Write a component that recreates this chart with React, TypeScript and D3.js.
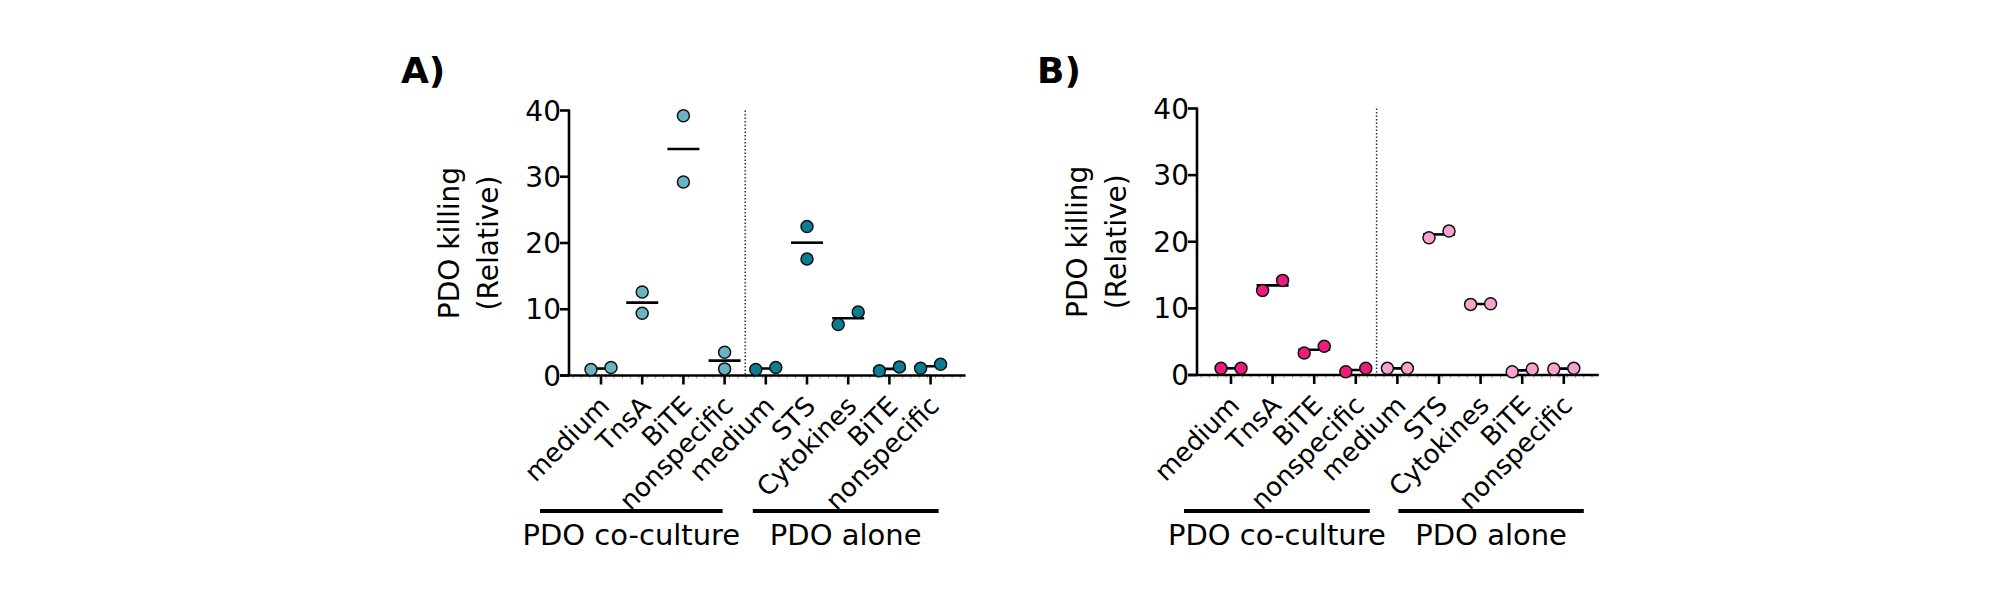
import React, { useEffect, useRef } from 'react';
import * as d3 from 'd3';

// categories along the x axis (same in both panels)
const categories = ['medium', 'TnsA', 'BiTE', 'nonspecific', 'medium', 'STS', 'Cytokines', 'BiTE', 'nonspecific'];
const groupLabels = ['PDO co-culture', 'PDO alone'];
const yTicks = [0, 10, 20, 30, 40];

// two replicate values per category
const valuesA = [
  [0.9, 1.2], [12.6, 9.4], [39.2, 29.2], [3.5, 1.0],
  [0.9, 1.2], [22.5, 17.6], [7.7, 9.6], [0.7, 1.3], [1.1, 1.7],
];
const valuesB = [
  [1.0, 1.0], [12.7, 14.2], [3.3, 4.3], [0.5, 1.0],
  [1.0, 1.0], [20.6, 21.6], [10.6, 10.7], [0.5, 0.9], [0.9, 1.0],
];

const FONT = '"DejaVu Sans", sans-serif';

const panels = [
  {
    label: 'A)', labelX: 401, values: valuesA, colors: ['#68B4C4', '#0B7D93'],
    axisX: 569, yTop: 110.5, yBottom: 375.5, first: 601, step: 41.2,
    bars: [[-61, -2], [-13, 8]],
  },
  {
    label: 'B)', labelX: 1037, values: valuesB, colors: ['#EE1A7E', '#F7A3CD'],
    axisX: 1197, yTop: 108.5, yBottom: 375, first: 1231, step: 41.6,
    bars: [[-47, 14], [1, 20]],
  },
];

export default function App() {
  const svgRef = useRef<SVGSVGElement>(null);

  useEffect(() => {
    if (!svgRef.current) return;
    const svg = d3.select(svgRef.current);
    svg.selectAll('*').remove();

    panels.forEach((p) => {
      const g = svg.append('g');
      const idx = categories.map((_, i) => i);
      const x = d3.scalePoint<number>().domain(idx).range([p.first, p.first + p.step * (categories.length - 1)]);
      const y = d3.scaleLinear().domain([0, 40]).range([p.yBottom, p.yTop]);
      const xEnd = (x(categories.length - 1) as number) + 35;

      // panel letter
      g.append('text')
        .attr('x', p.labelX).attr('y', 83)
        .style('font-family', FONT).style('font-weight', 'bold').style('font-size', '36px')
        .text(p.label);

      // dotted separator between groups
      const sepX = ((x(3) as number) + (x(4) as number)) / 2;
      g.append('line')
        .attr('x1', sepX).attr('x2', sepX).attr('y1', p.yTop).attr('y2', p.yBottom)
        .attr('stroke', '#333').attr('stroke-width', 1.5).attr('stroke-dasharray', '1.5,2');

      // minor ticks on x axis
      const minor = d3.range(p.axisX + 4, xEnd, p.step / 5);
      g.selectAll('.minor').data(minor).enter().append('line')
        .attr('x1', (d) => d).attr('x2', (d) => d)
        .attr('y1', p.yBottom).attr('y2', p.yBottom + 3)
        .attr('stroke', '#888').attr('stroke-width', 0.8);

      // y axis
      g.append('line')
        .attr('x1', p.axisX).attr('x2', p.axisX).attr('y1', p.yTop - 1).attr('y2', p.yBottom)
        .attr('stroke', '#000').attr('stroke-width', 2.6);
      g.selectAll('.ytick').data(yTicks).enter().append('line')
        .attr('x1', p.axisX - 9).attr('x2', p.axisX)
        .attr('y1', (d) => y(d)).attr('y2', (d) => y(d))
        .attr('stroke', '#000').attr('stroke-width', 2.6);
      g.selectAll('.ylab').data(yTicks).enter().append('text')
        .attr('x', p.axisX - 8).attr('y', (d) => y(d)).attr('dy', '0.36em')
        .attr('text-anchor', 'end')
        .style('font-family', FONT).style('font-size', '28px')
        .text((d) => d);

      // x axis
      g.append('line')
        .attr('x1', p.axisX - 9).attr('x2', xEnd).attr('y1', p.yBottom).attr('y2', p.yBottom)
        .attr('stroke', '#000').attr('stroke-width', 2.6);
      g.selectAll('.xtick').data(idx).enter().append('line')
        .attr('x1', (d) => x(d) as number).attr('x2', (d) => x(d) as number)
        .attr('y1', p.yBottom).attr('y2', p.yBottom + 9)
        .attr('stroke', '#000').attr('stroke-width', 2.6);
      g.selectAll('.xlab').data(idx).enter().append('text')
        .attr('transform', (d) => `translate(${(x(d) as number) + 10},${p.yBottom + 32}) rotate(-45)`)
        .attr('text-anchor', 'end')
        .style('font-family', FONT).style('font-size', '26px')
        .text((d) => categories[d]);

      // y axis title
      const midY = (p.yTop + p.yBottom) / 2;
      [['PDO killing', 110], ['(Relative)', 71]].forEach(([t, off]) => {
        g.append('text')
          .attr('transform', `translate(${p.axisX - (off as number)},${midY}) rotate(-90)`)
          .attr('text-anchor', 'middle')
          .style('font-family', FONT).style('font-size', '28px')
          .text(t as string);
      });

      // group bars + labels
      const groups = [[0, 3], [4, 8]];
      groups.forEach(([a, b], gi) => {
        const x1 = (x(a) as number) + p.bars[gi][0];
        const x2 = (x(b) as number) + p.bars[gi][1];
        g.append('line')
          .attr('x1', x1).attr('x2', x2).attr('y1', 511).attr('y2', 511)
          .attr('stroke', '#000').attr('stroke-width', 4);
        g.append('text')
          .attr('x', (x1 + x2) / 2).attr('y', 545)
          .attr('text-anchor', 'middle')
          .style('font-family', FONT).style('font-size', '29px')
          .text(groupLabels[gi]);
      });

      // mean lines and points
      p.values.forEach((vals, i) => {
        const cx = x(i) as number;
        const mean = d3.mean(vals) as number;
        const color = i < 4 ? p.colors[0] : p.colors[1];
        g.append('line')
          .attr('x1', cx - 16).attr('x2', cx + 16).attr('y1', y(mean)).attr('y2', y(mean))
          .attr('stroke', '#000').attr('stroke-width', 2.6);
        const spread = Math.abs(y(vals[0]) - y(vals[1])) < 14;
        vals.forEach((v, j) => {
          const dx = spread ? (j === 0 ? -10 : 10) : 0;
          g.append('circle')
            .attr('cx', cx + dx).attr('cy', y(v)).attr('r', 6)
            .attr('fill', color).attr('stroke', '#111').attr('stroke-width', 1.5);
        });
      });
    });
  }, []);

  return (
    <div style={{ position: 'absolute', left: 0, top: 0, background: '#fff' }}>
      <svg ref={svgRef} width={2000} height={600} viewBox="0 0 2000 600"></svg>
    </div>
  );
}
